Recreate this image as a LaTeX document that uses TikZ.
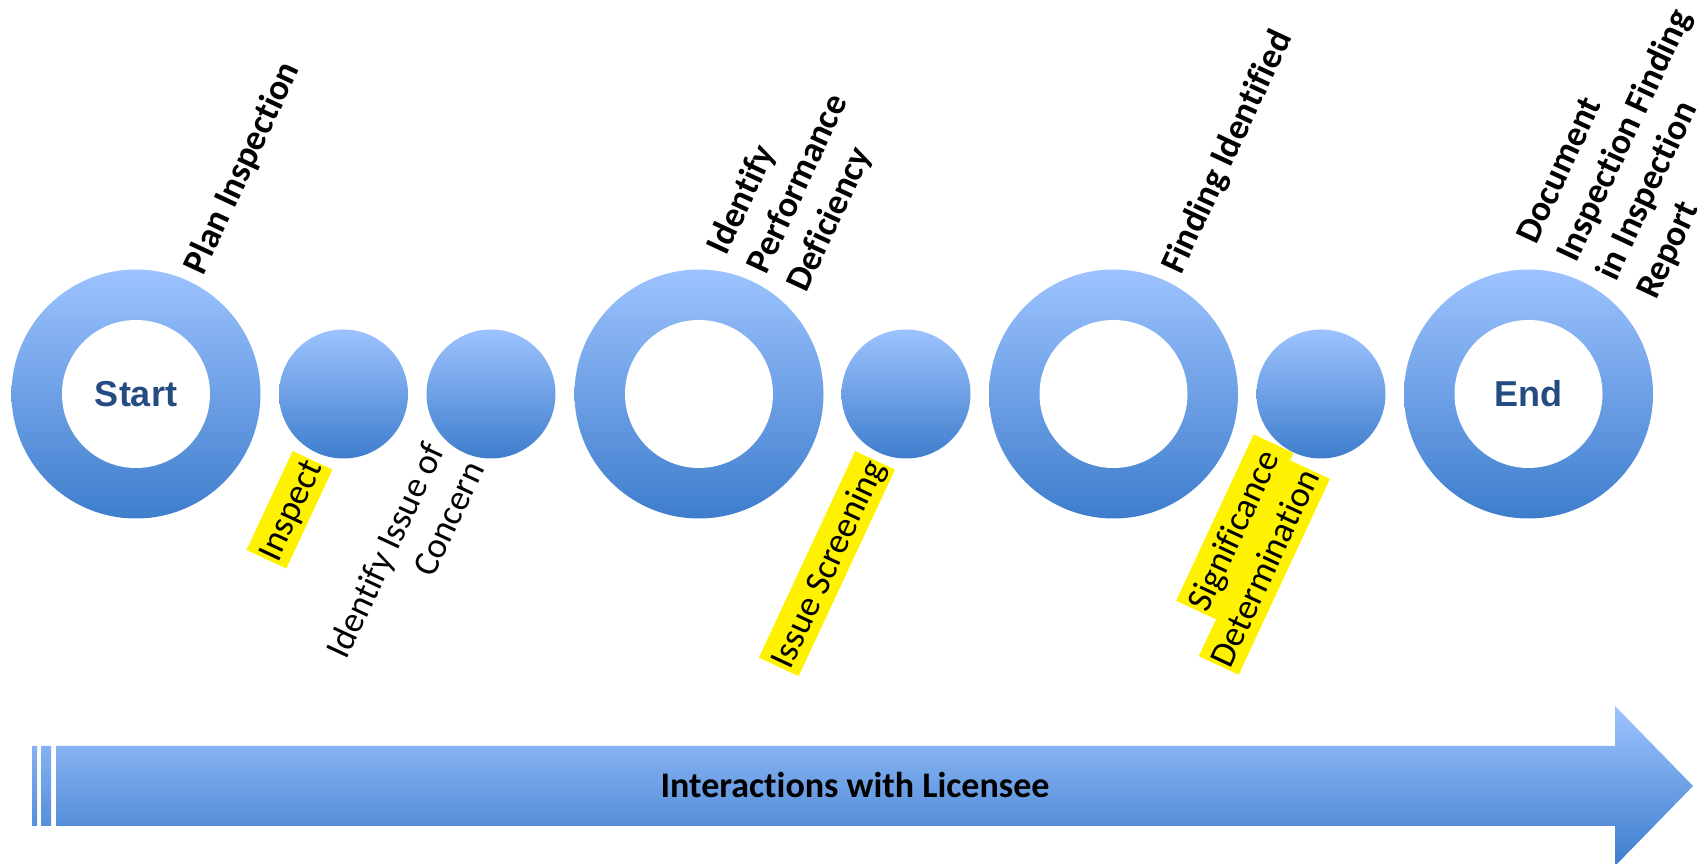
\documentclass[tikz,border=0pt]{standalone}
\usepackage{fontspec}
\setmainfont{Carlito}[Ligatures=NoCommon]
\newfontfamily\arialfont{Liberation Sans}
\usetikzlibrary{calc}

\definecolor{blueTop}{RGB}{157,195,255}
\definecolor{blueBot}{RGB}{62,125,204}
\definecolor{stepText}{RGB}{36,75,130}

% line strut matching the Calibri line height, and a per-line highlighter
\newcommand\mystrut{\rule[-0.27em]{0pt}{1.22em}}
\newcommand\hlt[1]{{\setlength{\fboxsep}{0pt}\colorbox{yellow}{\mystrut\hspace{1.5pt}#1\hspace{1.5pt}}}}
\newcommand\hlspace{\rlap{\setlength{\fboxsep}{0pt}\colorbox{yellow}{\mystrut\hspace{0.226em}}}}

\begin{document}
\begin{tikzpicture}[x=1pt,y=1pt,
  ringnode/.style={circle, minimum size=249pt, inner sep=0pt, draw=none,
                   top color=blueTop, bottom color=blueBot},
  holenode/.style={circle, minimum size=148pt, inner sep=0pt, draw=none, fill=white},
  dotnode/.style={circle, minimum size=129pt, inner sep=0pt, draw=none,
                  top color=blueTop, bottom color=blueBot},
  toplabel/.style={rotate=65, anchor=west, inner sep=0pt, align=left,
                   font=\fontsize{36}{44}\selectfont\bfseries},
  botlabel/.style={rotate=65, anchor=east, inner sep=0pt, align=right,
                   font=\fontsize{36}{44}\selectfont},
  ringtext/.style={font=\arialfont\bfseries\fontsize{36}{40}\selectfont,
                   text=stepText, inner sep=0pt},
]
\useasboundingbox (0,0) rectangle (1698,864);

% milestone rings and intermediate steps
\node[ringnode] (ring1) at (136,470) {};
\node[dotnode]  (dot1)  at (343.5,470) {};
\node[dotnode]  (dot2)  at (491,470) {};
\node[ringnode] (ring2) at (699,470) {};
\node[dotnode]  (dot3)  at (906,470) {};
\node[ringnode] (ring3) at (1113.5,470) {};
\node[dotnode]  (dot4)  at (1321,470) {};
\node[ringnode] (ring4) at (1528.5,470) {};

\node[holenode] (hole1) at (ring1) {};
\node[holenode] (hole2) at (ring2) {};
\node[holenode] (hole3) at (ring3) {};
\node[holenode] (hole4) at (ring4) {};

\node[ringtext] (starttext) at (hole1) {Start};
\node[ringtext] (endtext) at (hole4) {End};

% labels above the rings
\node[toplabel] (lplan) at ($(ring1.center)+(65:135)+(155:1)$)
  {\mystrut Plan Inspection};
\node[toplabel] (lperf) at ($(ring2.center)+(65:136)+(155:1)$)
  {\mystrut Identify\\\mystrut Performance\\\mystrut Deficiency};
\node[toplabel] (lfind) at ($(ring3.center)+(65:136)+(155:1)$)
  {\mystrut Finding Identified};
\node[toplabel] (ldoc) at ($(ring4.center)+(65:138)+(155:2)$)
  {\mystrut Document\\\mystrut Inspection Finding\\\mystrut in Inspection\\\mystrut Report};

% labels below the intermediate steps
\node[botlabel] (linsp) at ($(dot1.center)+(245:73)$) {\hlt{Inspect}};
\node[botlabel] (lissue) at ($(dot2.center)+(245:70)+(155:8)$)
  {\mystrut Identify Issue of\\\mystrut Concern};
\node[botlabel] (lscreen) at ($(dot3.center)+(245:73)$) {\hlt{Issue Screening}};
\node[botlabel] (lsig) at ($(dot4.center)+(245:73)$)
  {\hlt{Significance}\hlspace\\\hlt{Determination}};

% timeline arrow with its two leading bars
\shade[top color=blueTop, bottom color=blueBot]
  (32.5,38) rectangle (37,118)
  (41,38) rectangle (51,118)
  (56,38) -- (56,118) -- (1615,118) -- (1615,158) -- (1693,78)
  -- (1615,-2) -- (1615,38) -- cycle;
\node[font=\fontsize{36}{44}\selectfont\bfseries, anchor=base, inner sep=0pt]
  (arrowtext) at (855,66) {Interactions with Licensee};
\end{tikzpicture}
\end{document}
